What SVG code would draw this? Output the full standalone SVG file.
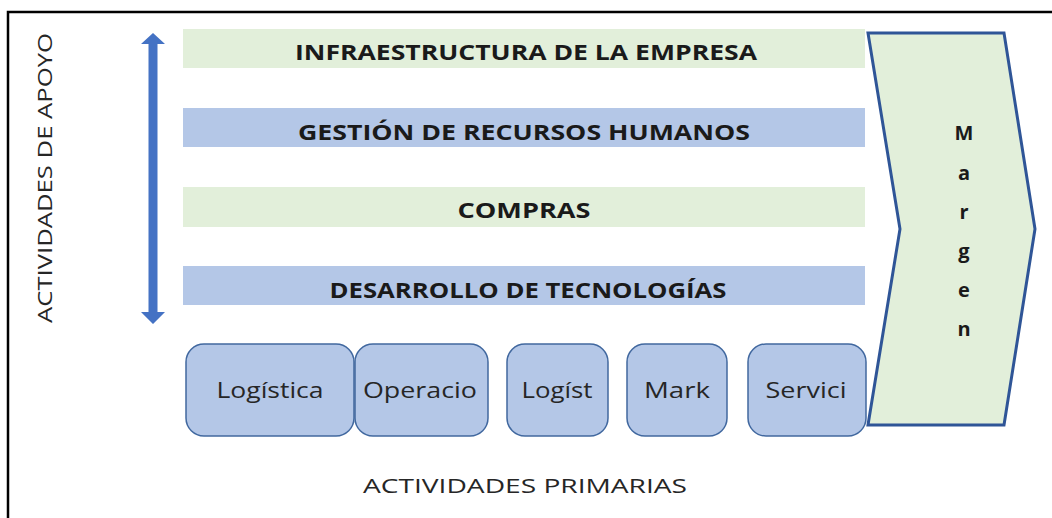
<svg xmlns="http://www.w3.org/2000/svg" width="1052" height="518" viewBox="0 0 1052 518">
<style>
.bar-g{fill:#e2efda}
.bar-b{fill:#b4c7e7}
.bt{font-family:"Open Sans","Liberation Sans",Arial,sans-serif;font-weight:bold;font-size:22px;fill:#1a1a1a;text-anchor:middle}
.box{fill:#b4c7e7;stroke:#41689f;stroke-width:1.5}
.xt{font-family:"Open Sans","Liberation Sans",Arial,sans-serif;font-size:21px;fill:#262626;text-anchor:middle}
.lbl{font-family:"Open Sans","Liberation Sans",Arial,sans-serif;font-size:20px;fill:#262626;text-anchor:middle}
.mt{font-family:"Open Sans","Liberation Sans",Arial,sans-serif;font-weight:bold;font-size:20px;fill:#1a1a1a;text-anchor:middle}
</style>
<rect x="0" y="0" width="1052" height="518" fill="#ffffff"/>
<path d="M8,518 L8,12 L1052,12" fill="none" stroke="#000000" stroke-width="2.5"/>

<g id="label-apoyo">
<text class="lbl" transform="translate(52,178) rotate(-90)" textLength="290" lengthAdjust="spacingAndGlyphs">ACTIVIDADES DE APOYO</text>
</g>

<g id="connectors">
<path d="M153,33 L165,44 L157.5,44 L157.5,312 L165,312 L153,324 L141,312 L148.5,312 L148.5,44 L141,44 Z" fill="#4472c4"/>
</g>

<g id="infraestructura">
<rect class="bar-g" x="183" y="29" width="682" height="39"/>
<text class="bt" x="526" y="60" textLength="462" lengthAdjust="spacingAndGlyphs">INFRAESTRUCTURA DE LA EMPRESA</text>
</g>
<g id="rrhh">
<rect class="bar-b" x="183" y="108" width="682" height="39"/>
<text class="bt" x="524" y="140" textLength="452" lengthAdjust="spacingAndGlyphs">GESTIÓN DE RECURSOS HUMANOS</text>
</g>
<g id="compras">
<rect class="bar-g" x="183" y="187" width="682" height="40"/>
<text class="bt" x="524" y="218" textLength="133" lengthAdjust="spacingAndGlyphs">COMPRAS</text>
</g>
<g id="tecnologias">
<rect class="bar-b" x="183" y="266" width="682" height="39"/>
<text class="bt" x="528" y="298" textLength="397" lengthAdjust="spacingAndGlyphs">DESARROLLO DE TECNOLOGÍAS</text>
</g>

<g id="margen">
<polygon points="868,33 1004,33 1035,229 1004,425 868,425 900,229" fill="#e2efda" stroke="#2f5597" stroke-width="3" stroke-linejoin="miter"/>
<text class="mt" x="964" y="140">M</text>
<text class="mt" x="964" y="180">a</text>
<text class="mt" x="964" y="219">r</text>
<text class="mt" x="964" y="258">g</text>
<text class="mt" x="964" y="297">e</text>
<text class="mt" x="964" y="336">n</text>
</g>

<g id="logistica-in">
<rect class="box" x="186" y="344" width="168" height="92" rx="18"/>
<text class="xt" x="270" y="398" textLength="107" lengthAdjust="spacingAndGlyphs">Logística</text>
</g>
<g id="operaciones">
<rect class="box" x="355" y="344" width="133" height="92" rx="18"/>
<text class="xt" x="420" y="398" textLength="114" lengthAdjust="spacingAndGlyphs">Operacio</text>
</g>
<g id="logistica-out">
<rect class="box" x="507" y="344" width="101" height="92" rx="18"/>
<text class="xt" x="557" y="398" textLength="71" lengthAdjust="spacingAndGlyphs">Logíst</text>
</g>
<g id="marketing">
<rect class="box" x="627" y="344" width="100" height="92" rx="18"/>
<text class="xt" x="677" y="398" textLength="66" lengthAdjust="spacingAndGlyphs">Mark</text>
</g>
<g id="servicio">
<rect class="box" x="748" y="344" width="118" height="92" rx="18"/>
<text class="xt" x="806" y="398" textLength="81" lengthAdjust="spacingAndGlyphs">Servici</text>
</g>

<g id="label-primarias">
<text class="lbl" x="525" y="493" textLength="324" lengthAdjust="spacingAndGlyphs">ACTIVIDADES PRIMARIAS</text>
</g>
</svg>
